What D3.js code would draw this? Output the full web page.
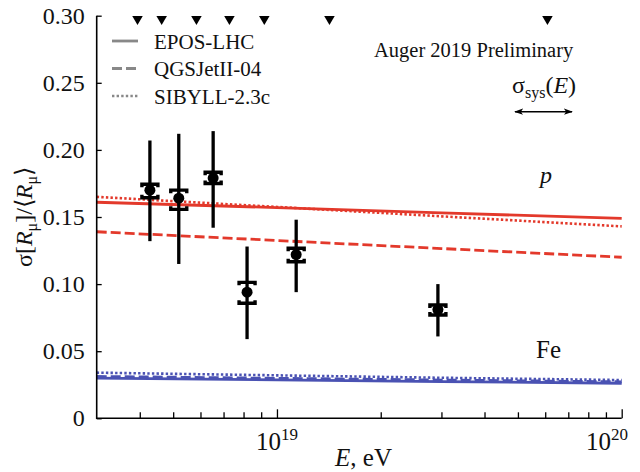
<!DOCTYPE html>
<html>
<head>
<meta charset="utf-8">
<script src="https://cdn.jsdelivr.net/npm/d3@7"></script>
<style>
  body { margin: 0; background: #fff; }
  svg text { font-family: "Liberation Serif", "Times New Roman", serif; fill: #111; }
</style>
</head>
<body>
<div id="canvas"></div>
<script>
// data
var pointE    = [4.28e18, 5.19e18, 6.53e18, 8.19e18, 1.137e19, 2.93e19];
var pointY    = [0.170, 0.164, 0.179, 0.094, 0.122, 0.081];
var statLo    = [0.132, 0.115, 0.142, 0.059, 0.094, 0.061];
var statHi    = [0.207, 0.212, 0.214, 0.128, 0.148, 0.100];
var sysLo     = [0.1644, 0.1557, 0.1750, 0.0857, 0.1167, 0.0770];
var sysHi     = [0.1744, 0.1700, 0.1833, 0.1013, 0.1267, 0.0844];

var binEdgeE  = [3.94e18, 4.63e18, 5.84e18, 7.28e18, 9.19e18, 1.42e19, 6.09e19];

var modelE    = [3e18, 1e19, 3e19, 1e20];
var eposP     = [0.161, 0.157, 0.153, 0.149];
var qgsjetP   = [0.139, 0.1325, 0.1265, 0.120];
var sibyllP   = [0.165, 0.1575, 0.1505, 0.143];
var eposFe    = [0.0300, 0.0287, 0.0274, 0.0261];
var qgsjetFe  = [0.0312, 0.0298, 0.0285, 0.0272];
var sibyllFe  = [0.0340, 0.0320, 0.0302, 0.0285];

var legendNames = ["EPOS-LHC", "QGSJetII-04", "SIBYLL-2.3c"];
var yTicks      = [0, 0.05, 0.10, 0.15, 0.20, 0.25, 0.30];
var xMajorTicks = [1e19, 1e20];
var xMinorTicks = [4e18, 5e18, 6e18, 7e18, 8e18, 9e18,
                   2e19, 3e19, 4e19, 5e19, 6e19, 7e19, 8e19, 9e19];
var xMajorExp   = ["19", "20"];

var W = 640, H = 472;
var plotL = 96.7, plotR = 621.7, plotT = 15.7, plotB = 418.3;
var red = "#e3392b", blue = "#4a52b3";
var dashes = ["none", "10,4", "2.4,2.2"];

var svg = d3.select("#canvas").append("svg").attr("width", W).attr("height", H);

var x = d3.scaleLog().domain([3e18, 1e20]).range([plotL, plotR]);
var y = d3.scaleLinear().domain([0, 0.30]).range([plotB, plotT]);

// model curves
var line = d3.line().x(function(d) { return x(d[0]); }).y(function(d) { return y(d[1]); });
var models = [
    { v: eposFe, c: blue, s: 0 }, { v: qgsjetFe, c: blue, s: 1 }, { v: sibyllFe, c: blue, s: 2 },
    { v: eposP, c: red, s: 0 },   { v: qgsjetP, c: red, s: 1 },   { v: sibyllP, c: red, s: 2 }
];
var gModels = svg.append("g").attr("name", "models");
models.forEach(function(m) {
    gModels.append("path")
        .attr("d", line(d3.zip(modelE, m.v)))
        .attr("fill", "none")
        .attr("stroke", m.c)
        .attr("stroke-width", m.s == 2 ? 2.6 : 2.8)
        .attr("stroke-dasharray", dashes[m.s]);
});

// axes
var yAxis = d3.axisLeft(y).tickValues(yTicks).tickSize(-5).tickPadding(12)
    .tickFormat(function(d) { return d === 0 ? "0" : d3.format(".2f")(d); });
var gy = svg.append("g").attr("transform", "translate(" + plotL + ",0)").call(yAxis);
gy.select(".domain").remove();
gy.selectAll(".tick text").style("font-size", "24px").attr("fill", "#111");

var gxMinor = svg.append("g").attr("transform", "translate(0," + plotB + ")")
    .call(d3.axisBottom(x).tickValues(xMinorTicks).tickSize(-6).tickFormat(""));
gxMinor.select(".domain").remove();
var gxMajor = svg.append("g").attr("transform", "translate(0," + plotB + ")")
    .call(d3.axisBottom(x).tickValues(xMajorTicks).tickSize(-9).tickFormat(""));
gxMajor.select(".domain").remove();
svg.selectAll(".tick line").attr("stroke", "#000").attr("stroke-width", 1.3);

svg.append("path")
    .attr("d", "M" + plotL + "," + plotT + "V" + plotB + "H" + plotR)
    .attr("fill", "none").attr("stroke", "#000").attr("stroke-width", 1.6);

xMajorTicks.forEach(function(e, i) {
    var px = Math.min(x(e), W - 33);
    var t = svg.append("text").attr("x", px).attr("y", 450)
        .attr("text-anchor", "middle").style("font-size", "25px");
    t.append("tspan").text("10");
    t.append("tspan").attr("dy", -10).style("font-size", "17px").text(xMajorExp[i]);
});

// axis titles
var xt = svg.append("text").attr("x", 335).attr("y", 466).style("font-size", "25px");
xt.append("tspan").style("font-style", "italic").text("E");
xt.append("tspan").text(", eV");

var yt = svg.append("text").attr("transform", "translate(32,217) rotate(-90)")
    .attr("text-anchor", "middle").style("font-size", "24px");
yt.append("tspan").text("σ[");
yt.append("tspan").style("font-style", "italic").text("R");
yt.append("tspan").attr("dy", 5).style("font-size", "16px").text("μ");
yt.append("tspan").attr("dy", -5).text("]/⟨");
yt.append("tspan").style("font-style", "italic").text("R");
yt.append("tspan").attr("dy", 5).style("font-size", "16px").text("μ");
yt.append("tspan").attr("dy", -5).text("⟩");

// bin edge markers along the top
var tri = d3.symbol().type(d3.symbolTriangle).size(48);
svg.append("g").selectAll("path").data(binEdgeE).enter().append("path")
    .attr("d", tri)
    .attr("transform", function(d) { return "translate(" + x(d) + ",19) rotate(180)"; })
    .attr("fill", "#000");

// data points
var gPts = svg.append("g").attr("name", "points");
pointE.forEach(function(e, i) {
    var px = x(e);
    gPts.append("line")
        .attr("x1", px).attr("x2", px)
        .attr("y1", y(statLo[i])).attr("y2", y(statHi[i]))
        .attr("stroke", "#000").attr("stroke-width", 3.3);
    var yh = y(sysHi[i]), yl = y(sysLo[i]);
    gPts.append("path")
        .attr("d", "M" + (px - 8) + "," + (yh + 3) + "V" + yh + "H" + (px + 8) + "V" + (yh + 3) +
                   "M" + (px - 8) + "," + (yl - 3) + "V" + yl + "H" + (px + 8) + "V" + (yl - 3))
        .attr("fill", "none").attr("stroke", "#000").attr("stroke-width", 3.4);
    gPts.append("circle").attr("cx", px).attr("cy", y(pointY[i])).attr("r", 5.5).attr("fill", "#000");
});

// legend
var gLeg = svg.append("g").attr("name", "legend");
legendNames.forEach(function(name, i) {
    var ly = 41 + i * 27.5;
    gLeg.append("line").attr("x1", 112).attr("x2", 138).attr("y1", ly).attr("y2", ly)
        .attr("stroke", "#888").attr("stroke-width", i == 2 ? 2.4 : 2.8)
        .attr("stroke-dasharray", dashes[i]);
    gLeg.append("text").attr("x", 154).attr("y", ly + 7.5).style("font-size", "21px").text(name);
});

// annotations
svg.append("text").attr("x", 374).attr("y", 56.5).style("font-size", "20.5px").text("Auger 2019 Preliminary");

var st = svg.append("text").attr("x", 512).attr("y", 93).style("font-size", "24px");
st.append("tspan").text("σ");
st.append("tspan").attr("dy", 5).style("font-size", "16px").text("sys");
st.append("tspan").attr("dy", -5).text("(");
st.append("tspan").style("font-style", "italic").text("E");
st.append("tspan").text(")");

var defs = svg.append("defs");
defs.append("marker").attr("id", "ah").attr("viewBox", "0 0 10 10")
    .attr("refX", 9).attr("refY", 5).attr("markerWidth", 9).attr("markerHeight", 9)
    .attr("markerUnits", "userSpaceOnUse").attr("orient", "auto-start-reverse")
    .append("path").attr("d", "M0,1.5L10,5L0,8.5L2.5,5Z").attr("fill", "#000");
svg.append("line").attr("x1", 515).attr("x2", 572).attr("y1", 111.7).attr("y2", 111.7)
    .attr("stroke", "#000").attr("stroke-width", 1.4)
    .attr("marker-start", "url(#ah)").attr("marker-end", "url(#ah)");

svg.append("text").attr("x", 540).attr("y", 183).style("font-size", "24px")
    .style("font-style", "italic").text("p");
svg.append("text").attr("x", 536).attr("y", 358).style("font-size", "25px").text("Fe");
</script>
</body>
</html>
